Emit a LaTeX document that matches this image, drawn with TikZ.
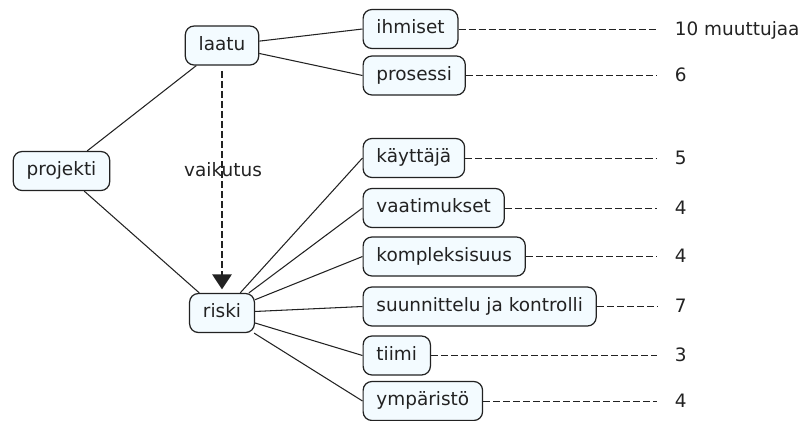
\documentclass[tikz,border=0pt]{standalone}
\usepackage{fontspec}
\setmainfont{DejaVu Sans}
\usetikzlibrary{arrows.meta}
\definecolor{boxfill}{HTML}{F3FBFF}
\definecolor{ink}{HTML}{222222}
\tikzset{
	concept/.style={draw=ink,fill=boxfill,rounded corners=5pt,line width=0.7pt,
		minimum height=0.78cm,inner xsep=7.6pt,text height=0.75em,text depth=0.22em},
	link/.style={draw=ink,line width=0.6pt},
	count/.style={anchor=west,inner xsep=10pt,inner ysep=0pt,text height=0.73em,text depth=0pt},
	countline/.style={draw=ink,line width=0.55pt,dash pattern=on 4pt off 1.7pt}
}

\begin{document}
\begin{tikzpicture}[x=0.02cm,y=-0.02cm,font=\fontsize{10.5}{12.6}\selectfont,text=ink]
		\useasboundingbox (0,0) rectangle (802,420);
		\node[concept] (laatu) at (222,45.5) {laatu};
		\node[concept] (projekti) at (61.5,171) {projekti};
		\node[concept] (riski) at (222,313) {riski};
		\node[concept,anchor=west] (ihmiset) at (362.5,29) {ihmiset};
		\node[concept,anchor=west] (prosessi) at (362.5,75.5) {prosessi};
		\node[concept,anchor=west] (kayttaja) at (362.5,158) {käyttäjä};
		\node[concept,anchor=west] (vaatimukset) at (362.5,208) {vaatimukset};
		\node[concept,anchor=west] (kompleksisuus) at (362.5,256.5) {kompleksisuus};
		\node[concept,anchor=west] (suunnittelu) at (362.5,306.5) {suunnittelu ja kontrolli};
		\node[concept,anchor=west] (tiimi) at (362.5,355.5) {tiimi};
		\node[concept,anchor=west] (ymparisto) at (362.5,401) {ympäristö};
		\node[count] (n-ihmiset) at (657,29) {10 muuttujaa};
		\node[count] (n-prosessi) at (657,75.5) {6};
		\node[count] (n-kayttaja) at (657,158) {5};
		\node[count] (n-vaatimukset) at (657,208) {4};
		\node[count] (n-kompleksisuus) at (657,256.5) {4};
		\node[count] (n-suunnittelu) at (657,306.5) {7};
		\node[count] (n-tiimi) at (657,355.5) {3};
		\node[count] (n-ymparisto) at (657,401) {4};
		\draw[link] (projekti) -- (laatu);
		\draw[link] (projekti) -- (riski);
		\draw[link] (laatu) -- (ihmiset.west);
		\draw[link] (laatu) -- (prosessi.west);
		\draw[link] (riski) -- (kayttaja.west);
		\draw[link] (riski) -- (vaatimukset.west);
		\draw[link] (riski) -- (kompleksisuus.west);
		\draw[link] (riski) -- (suunnittelu.west);
		\draw[link] (riski) -- (tiimi.west);
		\draw[link] (riski) -- (ymparisto.west);
		\draw[link,line width=0.9pt,dash pattern=on 4pt off 1.7pt,-{Triangle[width=11pt,length=8.5pt]},shorten <=3pt,shorten >=2pt] (laatu) -- (riski);
		\node (vaikutus) at (223,170) {vaikutus};
		\draw[countline] (ihmiset) -- (n-ihmiset);
		\draw[countline] (prosessi) -- (n-prosessi);
		\draw[countline] (kayttaja) -- (n-kayttaja);
		\draw[countline] (vaatimukset) -- (n-vaatimukset);
		\draw[countline] (kompleksisuus) -- (n-kompleksisuus);
		\draw[countline] (suunnittelu) -- (n-suunnittelu);
		\draw[countline] (tiimi) -- (n-tiimi);
		\draw[countline] (ymparisto) -- (n-ymparisto);
		\end{tikzpicture}
\end{document}
